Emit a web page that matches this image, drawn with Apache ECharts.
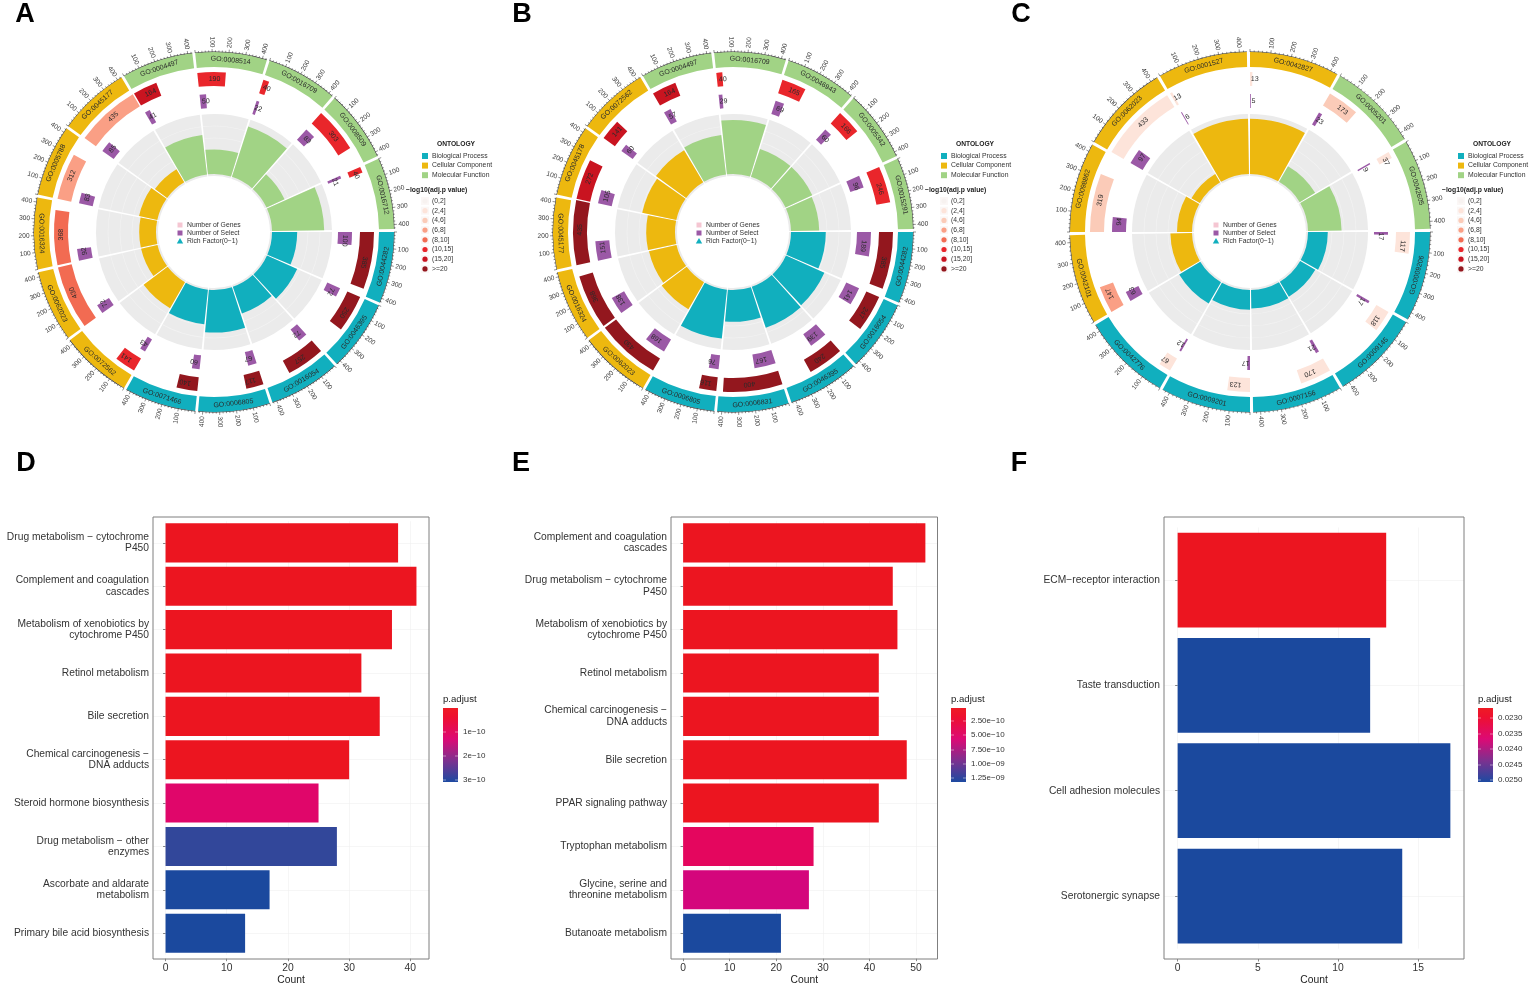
<!DOCTYPE html>
<html>
<head>
<meta charset="utf-8">
<title>GO circle and KEGG enrichment panels</title>
<script src="https://cdn.jsdelivr.net/npm/echarts@6/dist/echarts.min.js"></script>
<style>html,body{margin:0;padding:0;background:#fff}#c{width:1535px;height:990px}</style>
</head>
<body>
<div id="c"></div>
<script>
// ---------- Panel A data ----------
const goA = ['GO:0044282','GO:0046395','GO:0016054','GO:0006805','GO:0071466','GO:0072562','GO:0062023','GO:0016324','GO:0005788','GO:0045177','GO:0004497','GO:0008514','GO:0016709','GO:0008509','GO:0016712'];
const ontoA = ['BP','BP','BP','BP','BP','CC','CC','CC','CC','CC','MF','MF','MF','MF','MF'];
const genesA = [385,250,257,117,140,141,430,368,312,435,164,190,40,303,40];
const selectA = [100,72,72,67,60,43,72,92,83,85,41,50,22,83,21];
const richA = [0.42,0.55,0.47,0.71,0.58,0.50,0.28,0.28,0.31,0.25,0.66,0.41,0.88,0.33,0.87];
const binA = [7,7,7,7,7,5,4,4,3,3,6,5,5,5,5];
// ---------- Panel B data ----------
const goB = ['GO:0044282','GO:0016054','GO:0046395','GO:0006831','GO:0006805','GO:0062023','GO:0016324','GO:0045177','GO:0045178','GO:0072562','GO:0004497','GO:0016709','GO:0046943','GO:0005342','GO:0015291'];
const ontoB = ['BP','BP','BP','BP','BP','CC','CC','CC','CC','CC','MF','MF','MF','MF','MF'];
const genesB = [385,247,240,400,116,430,368,435,272,141,164,40,165,166,246];
const selectB = [189,141,139,167,76,168,138,151,105,60,57,29,69,60,96];
const richB = [0.58,0.70,0.72,0.53,0.82,0.52,0.47,0.48,0.58,0.62,0.66,0.90,0.49,0.49,0.47];
const binB = [7,7,7,7,7,7,7,7,6,6,6,5,5,5,5];
// ---------- Panel C data ----------
const goC = ['GO:0009206','GO:0009145','GO:0007156','GO:0009201','GO:0042776','GO:0042101','GO:0098862','GO:0062023','GO:0001527','GO:0042827','GO:0005201','GO:0042605'];
const ontoC = ['BP','BP','BP','BP','BP','CC','CC','CC','CC','CC','MF','MF'];
const genesC = [117,118,170,123,67,147,319,433,13,13,173,37];
const selectC = [17,17,21,17,12,63,94,97,6,5,23,9];
const richC = [0.33,0.29,0.31,0.33,0.41,0.36,0.25,0.16,0.92,0.92,0.30,0.56];
const binC = [1,1,1,1,1,3,2,1,1,1,2,1];
// ---------- Bar panels ----------
const catsD = ['Drug metabolism − cytochrome\nP450','Complement and coagulation\ncascades','Metabolism of xenobiotics by\ncytochrome P450','Retinol metabolism','Bile secretion','Chemical carcinogenesis −\nDNA adducts','Steroid hormone biosynthesis','Drug metabolism − other\nenzymes','Ascorbate and aldarate\nmetabolism','Primary bile acid biosynthesis'];
const countD = [38,41,37,32,35,30,25,28,17,13];
const colorD = ['#EC1520','#EC1520','#EC1520','#EC1520','#EC1520','#EC1520','#E0066A','#32479A','#1B499E','#1B499E'];
const ticksD = [0,10,20,30,40];
const catsE = ['Complement and coagulation\ncascades','Drug metabolism − cytochrome\nP450','Metabolism of xenobiotics by\ncytochrome P450','Retinol metabolism','Chemical carcinogenesis −\nDNA adducts','Bile secretion','PPAR signaling pathway','Tryptophan metabolism','Glycine, serine and\nthreonine metabolism','Butanoate metabolism'];
const countE = [52,45,46,42,42,48,42,28,27,21];
const colorE = ['#EC1520','#EC1520','#EC1520','#EC1520','#EC1520','#EC1520','#EC1520','#E4065E','#D4067C','#1B499E'];
const ticksE = [0,10,20,30,40,50];
const catsF = ['ECM−receptor interaction','Taste transduction','Cell adhesion molecules','Serotonergic synapse'];
const countF = [13,12,17,14];
const colorF = ['#EC1520','#1B499E','#1B499E','#1B499E'];
const ticksF = [0,5,10,15];
const cbD = ['1e−10','2e−10','3e−10'];
const cbE = ['2.50e−10','5.00e−10','7.50e−10','1.00e−09','1.25e−09'];
const cbF = ['0.0230','0.0235','0.0240','0.0245','0.0250'];
// ---------- Legend text ----------
const ontologyNames = ['Biological Process','Cellular Component','Molecular Function'];
const binNames = ['(0,2]','(2,4]','(4,6]','(6,8]','(8,10]','(10,15]','(15,20]','>=20'];
const centerNames = ['Number of Genes','Number of Select','Rich Factor(0−1)'];

// ---------- Styling ----------
const FONT = '"Liberation Sans", Arial, sans-serif';
const ONTO = {BP:'#11AFBE', CC:'#EDB80F', MF:'#A1D385'};
const BINS = ['#F7F2F0','#FDE4DA','#FBCBB8','#FA9F85','#F26B52','#E9262B','#C91420','#93171E'];
const PURPLE = '#9B59A6';
const TICKVALS = [100,200,300,400];
const R = {hub0:56, rich0:58, rich1:118, sel0:124, sel1:138, gene0:146, gene1:160, ring0:165, ring1:180};

function sectorShape(api, params, r0, r1, a0, a1){
  const c = params.coordSys;
  const p0 = api.coord([r1, a0]), p1 = api.coord([r1, a1]);
  let s = Math.atan2(p0[1]-c.cy, p0[0]-c.cx), e = Math.atan2(p1[1]-c.cy, p1[0]-c.cx);
  while (e <= s) e += Math.PI*2;
  return {cx:c.cx, cy:c.cy, r0:r0, r:r1, startAngle:s, endAngle:e, clockwise:true};
}
function textAt(api, params, r, a, txt, size, flip, color){
  const c = params.coordSys, p = api.coord([r,a]);
  const th = Math.atan2(p[1]-c.cy, p[0]-c.cx);
  let rot = -(th + Math.PI/2);
  if (flip && Math.sin(th) > 0) rot += Math.PI;
  return {type:'text', x:p[0], y:p[1], rotation:rot, silent:true,
    style:{text:txt, x:0, y:0, align:'center', verticalAlign:'middle', font:size+'px '+FONT, fill:color||'#2a2a2a'}};
}

function circleSeries(idx, go, onto, genes, select, rich, bin, span, gap){
  const used = span - gap;
  const rows = go.map((g,i)=>[i]);
  const base = {type:'custom', coordinateSystem:'polar', polarIndex:idx, clip:false, silent:true, animation:false};
  return [
    // gray track and rich-factor fill
    Object.assign({}, base, {name:'Rich Factor '+idx, data:rows.map((r,i)=>[i,rich[i]]), renderItem(params, api){
      const i = api.value(0), a0 = i*span, a1 = a0+used, f = api.value(1);
      const kids = [{type:'sector', shape:sectorShape(api,params,R.hub0,R.rich1,a0,a1), style:{fill:'#EBEBEB'}}];
      for (let b=1;b<5;b++){ const r=R.rich0+(R.rich1-R.rich0)*b/5;
        kids.push({type:'sector', shape:sectorShape(api,params,r-0.3,r+0.3,a0,a1), style:{fill:'#F3F3F3'}}); }
      kids.push({type:'sector', shape:sectorShape(api,params,R.rich0,R.rich0+(R.rich1-R.rich0)*f,a0,a1), style:{fill:ONTO[onto[i]]}});
      return {type:'group', children:kids};
    }}),
    // select bars
    Object.assign({}, base, {name:'Number of Select '+idx, data:rows.map((r,i)=>[i,select[i]]), renderItem(params, api){
      const i = api.value(0), v = api.value(1), a0 = i*span;
      return {type:'group', children:[
        {type:'sector', shape:sectorShape(api,params,R.sel0,R.sel1,a0,a0+v), style:{fill:PURPLE}},
        textAt(api,params,(R.sel0+R.sel1)/2,a0+v/2+20,String(v),7)]};
    }}),
    // gene bars
    Object.assign({}, base, {name:'Number of Genes '+idx, data:rows.map((r,i)=>[i,genes[i]]), renderItem(params, api){
      const i = api.value(0), v = api.value(1), a0 = i*span;
      return {type:'group', children:[
        {type:'sector', shape:sectorShape(api,params,R.gene0,R.gene1,a0,a0+v), style:{fill:BINS[bin[i]]}},
        textAt(api,params,(R.gene0+R.gene1)/2,a0+v/2+20,String(v),7)]};
    }}),
    // outer ring, GO labels, count axis
    Object.assign({}, base, {name:'Ontology ring '+idx, data:rows, renderItem(params, api){
      const i = api.value(0), a0 = i*span, a1 = a0+used, c = params.coordSys;
      const kids = [
        {type:'sector', shape:sectorShape(api,params,R.ring0,R.ring1,a0,a1), style:{fill:ONTO[onto[i]]}},
        {type:'sector', shape:sectorShape(api,params,R.ring1,R.ring1+0.5,a0,a1), style:{fill:'#222'}},
        textAt(api,params,(R.ring0+R.ring1)/2,a0+used/2,go[i],7,true)];
      for (let t=0;t<=used;t+=20){
        const major = t%100===0, p0 = api.coord([R.ring1,a0+t]), p1 = api.coord([R.ring1+(major?3:1.6),a0+t]);
        kids.push({type:'line', shape:{x1:p0[0],y1:p0[1],x2:p1[0],y2:p1[1]}, style:{stroke:'#222',lineWidth:0.5}});
      }
      TICKVALS.forEach(t=>{
        const p = api.coord([R.ring1+4.5,a0+t]);
        const th = Math.atan2(p[1]-c.cy,p[0]-c.cx), right = Math.cos(th)>=0;
        kids.push({type:'text', x:p[0], y:p[1], rotation:right?-th:Math.PI-th,
          style:{text:String(t), x:0, y:0, align:right?'left':'right', verticalAlign:'middle', font:'6.6px '+FONT, fill:'#3a3a3a'}});
      });
      return {type:'group', children:kids};
    }})
  ];
}

// ---------- graphic helpers ----------
const gfx = [];
function T(x,y,text,size,opt){ opt=opt||{};
  gfx.push({type:'text', x:x, y:y, silent:true, z:20, style:{text:text, x:0, y:0, align:opt.align||'left', verticalAlign:'middle',
    font:(opt.bold?'bold ':'')+size+'px '+FONT, fill:opt.fill||'#222'}});
}
[['A',25,14.5],['B',522,14.5],['C',1021,14.5],['D',26,463.5],['E',521,463.5],['F',1019,463.5]].forEach(p=>T(p[1],p[2],p[0],27,{bold:true,align:'center',fill:'#000'}));

function circleLegends(cx){
  const kx = cx+211, tx = cx+218;
  T(cx+242,144,'ONTOLOGY',6.7,{bold:true,align:'center'});
  ontologyNames.forEach((n,i)=>{ const y=156+i*9.6;
    gfx.push({type:'rect',shape:{x:kx-3,y:y-3,width:6,height:6},style:{fill:[ONTO.BP,ONTO.CC,ONTO.MF][i]},silent:true});
    T(tx,y,n,6.8,{fill:'#333'}); });
  T(cx+192,190,'−log10(adj.p value)',6.8,{bold:true});
  binNames.forEach((n,i)=>{ const y=201+i*9.7;
    gfx.push({type:'rect',shape:{x:kx-4,y:y-4,width:8,height:8},style:{fill:'#FBF7F6'},silent:true});
    gfx.push({type:'circle',shape:{cx:kx,cy:y,r:2.6},style:{fill:BINS[i]},silent:true});
    T(tx,y,n,6.8,{fill:'#333'}); });
  const ckx = cx-34, ctx = cx-27;
  centerNames.forEach((n,i)=>{ const y=225+i*8;
    if(i<2) gfx.push({type:'rect',shape:{x:ckx-2.5,y:y-2.5,width:5,height:5},style:{fill:['#F5C6D2',PURPLE][i]},silent:true});
    else gfx.push({type:'polygon',shape:{points:[[ckx,y-3],[ckx+3.2,y+2.5],[ckx-3.2,y+2.5]]},style:{fill:ONTO.BP},silent:true});
    T(ctx,y,n,6.8,{fill:'#333'}); });
}
const CENTERS = [[214,232],[733,232],[1250,232]];
CENTERS.forEach(c=>circleLegends(c[0]));

function colorbar(x,labels,ys){
  T(x,699.5,'p.adjust',9.6,{});
  gfx.push({type:'rect',silent:true,shape:{x:x,y:708,width:15,height:74},style:{fill:{type:'linear',x:0,y:0,x2:0,y2:1,colorStops:[
    {offset:0,color:'#EE1B24'},{offset:0.12,color:'#EE1030'},{offset:0.42,color:'#DC0A75'},{offset:0.72,color:'#7A3290'},{offset:1,color:'#1D4AA1'}]}}});
  labels.forEach((l,i)=>{
    gfx.push({type:'line',silent:true,shape:{x1:x,y1:ys[i],x2:x+3,y2:ys[i]},style:{stroke:'rgba(255,255,255,.75)',lineWidth:0.6}});
    gfx.push({type:'line',silent:true,shape:{x1:x+12,y1:ys[i],x2:x+15,y2:ys[i]},style:{stroke:'rgba(255,255,255,.75)',lineWidth:0.6}});
    T(x+20,ys[i],l,8,{fill:'#333'});
  });
}
colorbar(443,cbD,[732,756,780]);
colorbar(951,cbE,[721,735,750,764,778]);
colorbar(1478,cbF,[718,734,749,765,780]);

[[153,276],[671,266.5],[1164,300]].forEach(p=>gfx.push({type:'rect',silent:true,z:15,shape:{x:p[0],y:517,width:p[1],height:442},style:{fill:'none',stroke:'#7F7F7F',lineWidth:1}}));

// ---------- cartesian panels ----------
const bars = [
 {cats:catsD,count:countD,color:colorD,ticks:ticksD,left:153,width:276,top:521.2,height:433.7,off:3.8,min:-2.05,max:43.05},
 {cats:catsE,count:countE,color:colorE,ticks:ticksE,left:671,width:266.5,top:521.2,height:433.7,off:3.8,min:-2.6,max:54.6},
 {cats:catsF,count:countF,color:colorF,ticks:ticksF,left:1164,width:300,top:527.4,height:421.3,off:10.3,min:-0.85,max:17.85}
];
const grid=[],xAxis=[],yAxis=[],barSeries=[];
bars.forEach((b,i)=>{
  grid.push({left:b.left,top:b.top,width:b.width,height:b.height,containLabel:false});
  xAxis.push({type:'value',gridIndex:i,min:b.min,max:b.max,offset:b.off,name:'Count',nameLocation:'middle',nameGap:16,
    nameTextStyle:{fontFamily:FONT,fontSize:10.3,color:'#222'},
    axisLine:{show:false},axisTick:{show:true,length:2.5,lineStyle:{color:'#555',width:0.7},customValues:b.ticks},
    axisLabel:{fontFamily:FONT,fontSize:10.3,color:'#333',margin:4,customValues:b.ticks,hideOverlap:false,showMinLabel:true,showMaxLabel:true},
    splitLine:{show:true,lineStyle:{color:'#F0F0F0',width:0.6}}});
  yAxis.push({type:'category',gridIndex:i,data:b.cats,inverse:true,
    axisLine:{show:false},axisTick:{show:true,length:2.5,alignWithLabel:true,lineStyle:{color:'#555',width:0.7}},
    axisLabel:{fontFamily:FONT,fontSize:10.25,lineHeight:11.5,color:'#333',margin:4,align:'right',interval:0,padding:[2,0,0,0]},
    splitLine:{show:true,alignWithLabel:true,lineStyle:{color:'#F0F0F0',width:0.6}}});
  barSeries.push({type:'bar',name:'Count '+'DEF'[i],xAxisIndex:i,yAxisIndex:i,barWidth:'90%',silent:true,animation:false,
    data:b.count.map((v,k)=>({value:v,itemStyle:{color:b.color[k]}}))});
});

// ---------- polar panels ----------
const SPANS = [444.4,444.4,451];
const COUNTS = [goA.length,goB.length,goC.length];
const polar = CENTERS.map(c=>({center:c,radius:[0,200]}));
const radiusAxis = CENTERS.map((c,i)=>({polarIndex:i,type:'value',min:0,max:200,show:false}));
const angleAxis = CENTERS.map((c,i)=>({polarIndex:i,type:'value',min:0,max:COUNTS[i]*SPANS[i],startAngle:0,clockwise:true,show:false}));

const chart = echarts.init(document.getElementById('c'),null,{renderer:'canvas'});
chart.setOption({
  backgroundColor:'#fff',animation:false,
  grid,xAxis,yAxis,polar,radiusAxis,angleAxis,
  series:[...barSeries,
    ...circleSeries(0,goA,ontoA,genesA,selectA,richA,binA,SPANS[0],17),
    ...circleSeries(1,goB,ontoB,genesB,selectB,richB,binB,SPANS[1],17),
    ...circleSeries(2,goC,ontoC,genesC,selectC,richC,binC,SPANS[2],15)],
  graphic:{elements:gfx}
});
</script>
</body>
</html>
